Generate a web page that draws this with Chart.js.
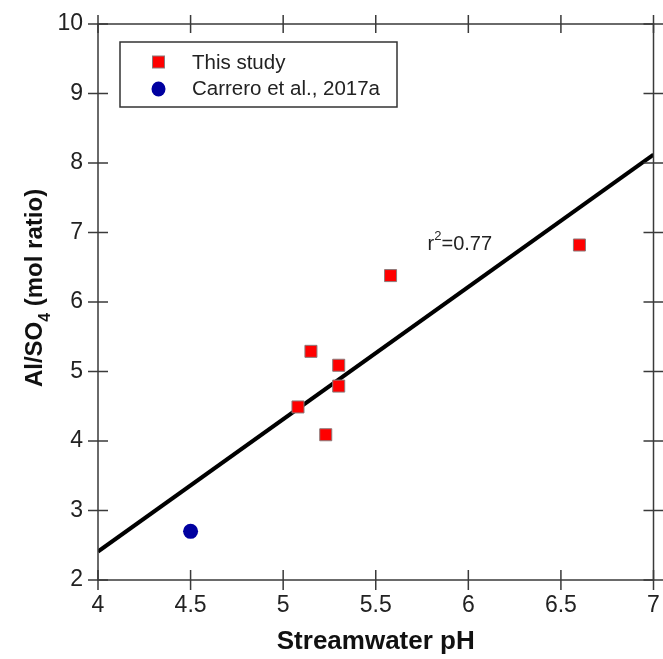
<!DOCTYPE html>
<html>
<head>
<meta charset="utf-8">
<script src="https://cdn.jsdelivr.net/npm/chart.js@4"></script>
<style>
  html, body { margin: 0; padding: 0; background: #fff; }
  #wrap { width: 663px; height: 659px; }
</style>
</head>
<body>
<div id="wrap"><canvas id="chart"></canvas></div>
<script>
// values
const studyPh = [5.08, 5.15, 5.23, 5.30, 5.30, 5.58, 6.60];
const studyRatio = [4.49, 5.29, 4.09, 5.09, 4.79, 6.38, 6.82];
const carreroPh = [4.5];
const carreroRatio = [2.70];
const fitPh = [4, 7];
const fitRatio = [2.41, 8.12];
const xTicks = [4, 4.5, 5, 5.5, 6, 6.5, 7];
const yTicks = [2, 3, 4, 5, 6, 7, 8, 9, 10];
const fitLabel = { x: 5.78, y: 6.75, r2: '0.77' };

const toPoints = (xs, ys) => xs.map((x, i) => ({x: x, y: ys[i]}));
const FONT = '"Liberation Sans", Arial, sans-serif';
const AXIS = '#3a3a3a';

// frame, crossing tick marks, y title with subscript, r² note, legend box
const decor = {
    id: 'decor',
    afterDatasetsDraw(chart) {
        const {ctx, chartArea: a, scales: {x, y}} = chart;
        ctx.save();
        ctx.strokeStyle = AXIS;
        ctx.lineWidth = 1.5;
        ctx.strokeRect(a.left, a.top, a.right - a.left, a.bottom - a.top);
        ctx.beginPath();
        xTicks.forEach(v => {
            const px = x.getPixelForValue(v);
            ctx.moveTo(px, a.bottom - 10); ctx.lineTo(px, a.bottom + 10);
            ctx.moveTo(px, a.top - 9); ctx.lineTo(px, a.top + 9);
        });
        yTicks.forEach(v => {
            const py = y.getPixelForValue(v);
            ctx.moveTo(a.left - 10, py); ctx.lineTo(a.left + 10, py);
            ctx.moveTo(a.right - 10, py); ctx.lineTo(a.right + 10, py);
        });
        ctx.stroke();

        // y axis title
        ctx.fillStyle = '#111';
        ctx.translate(42, 288);
        ctx.rotate(-Math.PI / 2);
        ctx.textBaseline = 'alphabetic';
        const big = 'bold 24px ' + FONT, small = 'bold 16px ' + FONT;
        const p1 = 'Al/SO', p2 = '4', p3 = ' (mol ratio)';
        ctx.font = big; const w1 = ctx.measureText(p1).width, w3 = ctx.measureText(p3).width;
        ctx.font = small; const w2 = ctx.measureText(p2).width;
        let tx = -(w1 + w2 + w3) / 2;
        ctx.font = big; ctx.fillText(p1, tx, 0); tx += w1;
        ctx.font = small; ctx.fillText(p2, tx, 8); tx += w2;
        ctx.font = big; ctx.fillText(p3, tx, 0);
        ctx.setTransform(1, 0, 0, 1, 0, 0);

        // r² label
        let lx = x.getPixelForValue(fitLabel.x);
        const ly = y.getPixelForValue(fitLabel.y);
        ctx.fillStyle = '#222';
        ctx.font = '20px ' + FONT;
        ctx.fillText('r', lx, ly); lx += ctx.measureText('r').width;
        ctx.font = '13px ' + FONT;
        ctx.fillText('2', lx, ly - 10); lx += ctx.measureText('2').width;
        ctx.font = '20px ' + FONT;
        ctx.fillText('=' + fitLabel.r2, lx, ly);

        // legend
        ctx.strokeStyle = '#333';
        ctx.lineWidth = 1.5;
        ctx.fillStyle = '#fff';
        ctx.fillRect(120, 42, 277, 65);
        ctx.strokeRect(120, 42, 277, 65);
        const items = chart.data.datasets.filter(d => d.label);
        items.forEach((d, i) => {
            const cy = 62 + i * 26;
            ctx.fillStyle = d.backgroundColor;
            ctx.strokeStyle = d.borderColor;
            ctx.lineWidth = 1;
            if (d.pointStyle === 'rect') {
                ctx.fillRect(152.5, cy - 6, 12, 12);
                ctx.strokeRect(152.5, cy - 6, 12, 12);
            } else {
                ctx.beginPath();
                ctx.ellipse(158.5, cy + 1, 7, 7.5, 0, 0, Math.PI * 2);
                ctx.fill();
            }
            ctx.fillStyle = '#222';
            ctx.font = '20.5px ' + FONT;
            ctx.textBaseline = 'middle';
            ctx.fillText(d.label, 192, cy + 1);
        });
        ctx.restore();
    }
};

new Chart(document.getElementById('chart'), {
    type: 'scatter',
    data: {
        datasets: [{
            label: 'This study',
            data: toPoints(studyPh, studyRatio),
            pointStyle: 'rect',
            pointRadius: 8.5,
            backgroundColor: '#ff0000',
            borderColor: '#8a7a7a',
            borderWidth: 1,
            order: 0
        }, {
            label: 'Carrero et al., 2017a',
            data: toPoints(carreroPh, carreroRatio),
            pointStyle: 'circle',
            pointRadius: 7.5,
            backgroundColor: '#0000a0',
            borderColor: '#0000a0',
            borderWidth: 0,
            order: 0
        }, {
            data: toPoints(fitPh, fitRatio),
            showLine: true,
            pointRadius: 0,
            borderColor: '#000',
            borderWidth: 4,
            order: 1
        }]
    },
    options: {
        animation: false,
        responsive: true,
        maintainAspectRatio: false,
        layout: {padding: {top: 24, right: 8, left: 0, bottom: 0}},
        plugins: {legend: {display: false}, tooltip: {enabled: false}},
        scales: {
            x: {
                type: 'linear', min: 4, max: 7,
                afterBuildTicks: s => { s.ticks = xTicks.map(v => ({value: v})); },
                afterFit: s => { s.height = 79; s.paddingLeft = 0; s.paddingRight = 0; },
                grid: {display: false, drawTicks: false},
                border: {display: false},
                ticks: {
                    color: '#222', padding: 12, font: {family: FONT, size: 23},
                    callback: v => String(v)
                },
                title: {
                    display: true, text: 'Streamwater pH', color: '#111',
                    font: {family: FONT, size: 26, weight: 'bold'},
                    padding: {top: 0, bottom: 2}
                }
            },
            y: {
                type: 'linear', min: 2, max: 10,
                afterBuildTicks: s => { s.ticks = yTicks.map(v => ({value: v})); },
                afterFit: s => { s.width = 98; s.paddingTop = 0; s.paddingBottom = 0; },
                grid: {display: false, drawTicks: false},
                border: {display: false},
                ticks: {
                    color: '#222', padding: 15, font: {family: FONT, size: 23},
                    callback: v => String(v)
                }
            }
        }
    },
    plugins: [decor]
});
</script>
</body>
</html>
